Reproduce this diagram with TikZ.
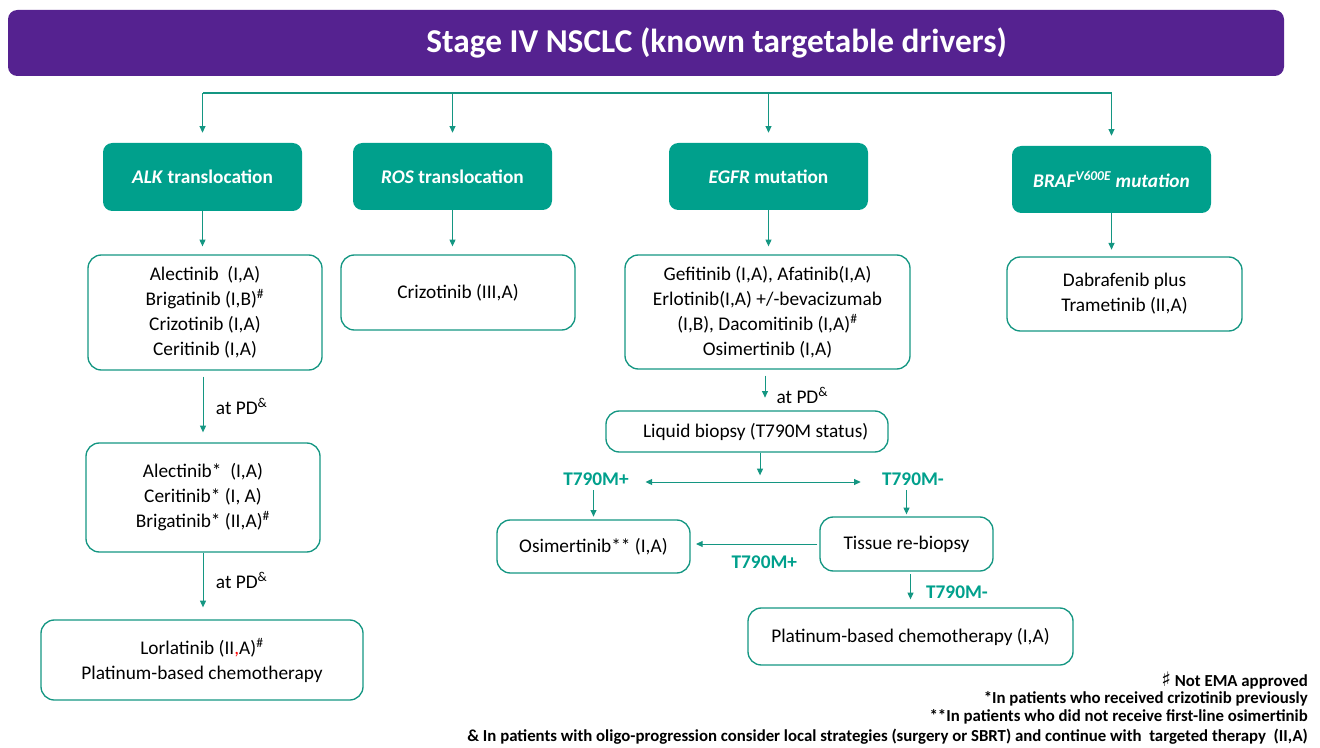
\documentclass[tikz,border=0pt]{standalone}
\usepackage{fontspec}
\setmainfont{Carlito}
\newfontfamily\symfont{DejaVu Sans}
\usetikzlibrary{arrows.meta}
\definecolor{esmopurple}{RGB}{85,34,144}
\definecolor{esmoteal}{RGB}{0,160,140}
\definecolor{esmoline}{RGB}{20,150,130}

\begin{document}
\begin{tikzpicture}[
  x=0.75pt,y=-0.75pt,
  font=\fontsize{14.5}{18.75}\selectfont,
  banner/.style={fill=esmopurple,rounded corners=7pt,text=white,inner sep=0pt,
                 font=\fontsize{25}{30}\selectfont\bfseries},
  driver/.style={fill=esmoteal,rounded corners=7pt,text=white,inner sep=0pt,
                 align=center,font=\fontsize{14.5}{18.75}\selectfont\bfseries},
  regimen/.style={draw=esmoline,line width=1pt,rounded corners=10pt,
                  inner sep=0pt,align=center},
  flow/.style={-{Triangle[length=5pt,width=4.5pt]},draw=esmoline,line width=0.7pt},
  flowboth/.style={flow,{Triangle[length=5pt,width=4.5pt]}-{Triangle[length=5pt,width=4.5pt]}},
  pd/.style={anchor=west,xshift=6pt},
  tag/.style={text=esmoteal,font=\fontsize{14.5}{18.75}\selectfont\bfseries},
  note/.style={anchor=east,inner sep=0pt,font=\fontsize{12.6}{15}\selectfont\bfseries}
]
  \useasboundingbox (0,0) rectangle (1320,748);

  \node[banner,minimum width=957pt,minimum height=49.5pt] (stage) at (646,43)
    {\hspace*{106pt}Stage IV NSCLC (known targetable drivers)};

  % driver headers
  \node[driver,minimum width=149.25pt,minimum height=51pt] (alkhd) at (202.5,177)
    {\textit{ALK} translocation};
  \node[driver,minimum width=149.25pt,minimum height=50.25pt] (roshd) at (452.5,176.5)
    {\textit{ROS} translocation};
  \node[driver,minimum width=149.25pt,minimum height=50.25pt] (egfrhd) at (768.5,176.5)
    {\textit{EGFR} mutation};
  \node[driver,minimum width=149.25pt,minimum height=50.25pt] (brafhd) at (1111.5,179.5)
    {\textit{BRAF\textsuperscript{V600E} mutation}};

  \coordinate (busL) at (203,93);
  \coordinate (busR) at (1111.5,93);
  \draw[esmoline,line width=1.1pt] (busL) -- (busR);
  \foreach \hd in {alkhd,roshd,egfrhd,brafhd}
    \draw[flow,shorten >=7.5pt] (busL -| \hd.north) -- (\hd.north);

  % first line
  \node[regimen,minimum width=175.5pt,minimum height=86.25pt] (alkfirst) at (205,312.5)
    {Alectinib\ \ (I,A)\\Brigatinib (I,B)\textsuperscript{\#}\\Crizotinib (I,A)\\Ceritinib (I,A)};
  \node[regimen,minimum width=175.5pt,minimum height=56.25pt] (rosfirst) at (458,292.5)
    {Crizotinib (III,A)};
  \node[regimen,minimum width=213.75pt,minimum height=85.5pt] (egfrfirst) at (767.5,312)
    {Gefitinib (I,A), Afatinib(I,A)\\Erlotinib(I,A) +/-bevacizumab\\(I,B), Dacomitinib (I,A)\textsuperscript{\#}\\Osimertinib (I,A)};
  \node[regimen,minimum width=176.25pt,minimum height=55.5pt] (braffirst) at (1124.5,294)
    {Dabrafenib plus\\Trametinib (II,A)};

  \draw[flow,shorten >=6pt] (alkhd.south) -- (alkhd.south |- alkfirst.north);
  \draw[flow,shorten >=6pt] (roshd.south) -- (roshd.south |- rosfirst.north);
  \draw[flow,shorten >=6pt] (egfrhd.south) -- (egfrhd.south |- egfrfirst.north);
  \draw[flow,shorten >=5pt] (brafhd.south) -- (brafhd.south |- braffirst.north);

  % ALK later lines
  \node[regimen,minimum width=175.5pt,minimum height=81.75pt] (alksecond) at (203,497.5)
    {Alectinib*\ \ (I,A)\\Ceritinib* (I, A)\\Brigatinib* (II,A)\textsuperscript{\#}};
  \node[regimen,minimum width=241.5pt,minimum height=60pt] (alkthird) at (202,660)
    {Lorlatinib (II{\color{red},}A)\textsuperscript{\#}\\Platinum-based chemotherapy};
  \draw[flow,shorten <=4.5pt,shorten >=7.5pt] (alkfirst.south -| alksecond.north) -- (alksecond.north)
    node[pd,midway] {at PD\textsuperscript{\&}};
  \draw[flow,shorten >=9pt] (alksecond.south) -- (alksecond.south |- alkthird.north)
    node[pd,midway,yshift=4pt] {at PD\textsuperscript{\&}};

  % EGFR resistance
  \node[regimen,minimum width=211.5pt,minimum height=30.75pt] (liquid) at (747,431.5)
    {\hspace*{13pt}Liquid biopsy (T790M status)};
  \draw[flow,shorten <=4.5pt,shorten >=9.5pt] (egfrfirst.south -| 765,0) -- (liquid.north -| 765,0)
    node[pd,midway,xshift=-1pt,yshift=-4pt] {at PD\textsuperscript{\&}};

  \coordinate (split) at (760,482);
  \draw[flow,shorten >=5pt] (liquid.south -| split) -- (split);
  \node[tag] (tplus) at (596,479) {T790M+};
  \node[tag] (tminus) at (913,479) {T790M-};
  \draw[flowboth,shorten <=9pt,shorten >=12.5pt] (tplus.east |- split) -- (tminus.west |- split);

  \node[regimen,minimum width=144.75pt,minimum height=39.75pt] (osim) at (593.5,546.5)
    {Osimertinib** (I,A)};
  \node[regimen,minimum width=129.75pt,minimum height=40.5pt] (tissue) at (906.5,544)
    {Tissue re-biopsy};
  \node[regimen,minimum width=243.75pt,minimum height=42.75pt] (platinum) at (910.5,636.5)
    {Platinum-based chemotherapy (I,A)};

  \draw[flow,shorten >=2pt] (osim.north |- tplus.south) -- (osim.north);
  \draw[flow,shorten >=1.5pt] (tissue.north |- tminus.south) -- (tissue.north);
  \draw[flow,shorten <=1.5pt,shorten >=4pt] (tissue.west) -- (osim.east |- tissue.west)
    node[tag,midway,below,xshift=7pt,yshift=-5pt] {T790M+};
  \draw[flow,shorten <=2pt,shorten >=6pt] (platinum.north |- tissue.south) -- (platinum.north)
    node[tag,midway,right,xshift=8pt,yshift=-2pt] {T790M-};

  % footnotes
  \node[note] (fn1) at (1308,681) {{\symfont\bfseries\fontsize{15}{15}\selectfont ♯} Not EMA approved};
  \node[note] (fn2) at (1308,699) {*In patients who received crizotinib previously};
  \node[note] (fn3) at (1308,717) {**In patients who did not receive first-line osimertinib};
  \node[note] (fn4) at (1308,737) {\& In patients with oligo-progression consider local strategies (surgery or SBRT) and continue with\ \ targeted therapy\ \ (II,A)};
\end{tikzpicture}
\end{document}
